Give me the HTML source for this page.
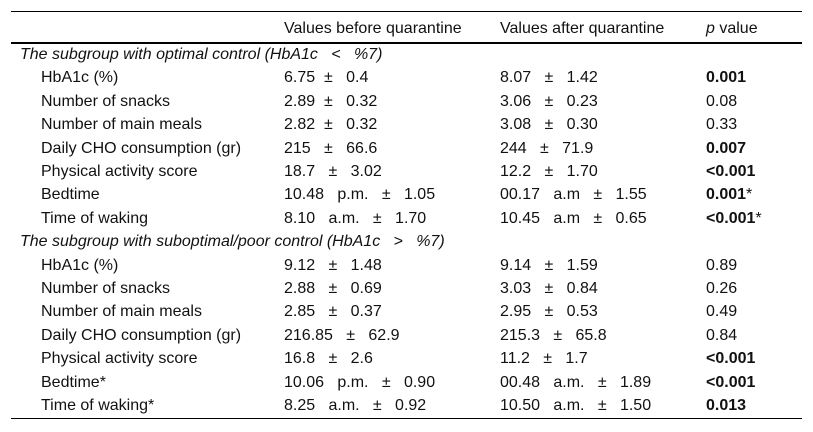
<!DOCTYPE html>
<html><head><meta charset="utf-8"><style>
body{margin:0;width:813px;height:432px;background:#fff;font-family:"Liberation Sans",sans-serif;font-size:16px;color:#111;position:relative;overflow:hidden}
.l{position:absolute;left:11px;width:791px;background:#000}
.r{position:absolute;left:0;width:813px;height:20px}
.r span{position:absolute;top:0;white-space:pre;line-height:20px}
.c1{left:41px}.c2{left:284px}.c3{left:500px}.c4{left:706px}
.sec{left:20px;font-style:italic}
b{font-weight:bold}
</style></head><body>
<div class="l" style="top:11px;height:1px"></div>
<div class="r" style="top:19px">
<span class="c2">Values before quarantine</span><span class="c3">Values after quarantine</span><span class="c4"><i>p</i> value</span></div>
<div class="l" style="top:42px;height:2px"></div>
<div id="rows"></div>
<div class="l" style="top:418px;height:1px"></div>
<script>
const rows=[
["sec","The subgroup with optimal control (HbA1c   <   %7)"],
["HbA1c (%)","6.75  ±   0.4","8.07   ±   1.42","<b>0.001</b>"],
["Number of snacks","2.89  ±   0.32","3.06   ±   0.23","0.08"],
["Number of main meals","2.82  ±   0.32","3.08   ±   0.30","0.33"],
["Daily CHO consumption (gr)","215   ±   66.6","244   ±   71.9","<b>0.007</b>"],
["Physical activity score","18.7   ±   3.02","12.2   ±   1.70","<b>&lt;0.001</b>"],
["Bedtime","10.48   p.m.   ±   1.05","00.17   a.m   ±   1.55","<b>0.001</b>*"],
["Time of waking","8.10   a.m.   ±   1.70","10.45   a.m   ±   0.65","<b>&lt;0.001</b>*"],
["sec","The subgroup with suboptimal/poor control (HbA1c   >   %7)"],
["HbA1c (%)","9.12   ±   1.48","9.14   ±   1.59","0.89"],
["Number of snacks","2.88   ±   0.69","3.03   ±   0.84","0.26"],
["Number of main meals","2.85   ±   0.37","2.95   ±   0.53","0.49"],
["Daily CHO consumption (gr)","216.85   ±   62.9","215.3   ±   65.8","0.84"],
["Physical activity score","16.8   ±   2.6","11.2   ±   1.7","<b>&lt;0.001</b>"],
["Bedtime*","10.06   p.m.   ±   0.90","00.48   a.m.   ±   1.89","<b>&lt;0.001</b>"],
["Time of waking*","8.25   a.m.   ±   0.92","10.50   a.m.   ±   1.50","<b>0.013</b>"]];
const host=document.getElementById('rows');
rows.forEach((r,i)=>{
 const d=document.createElement('div');d.className='r';d.style.top=(45+i*23.4)+'px';
 
 
 if(r[0]==='sec'){d.innerHTML='<span class="sec">'+r[1]+'</span>';}
 else{d.innerHTML='<span class="c1">'+r[0]+'</span><span class="c2">'+r[1]+'</span><span class="c3">'+r[2]+'</span><span class="c4">'+r[3]+'</span>';}
 host.appendChild(d);
});
</script>
</body></html>
